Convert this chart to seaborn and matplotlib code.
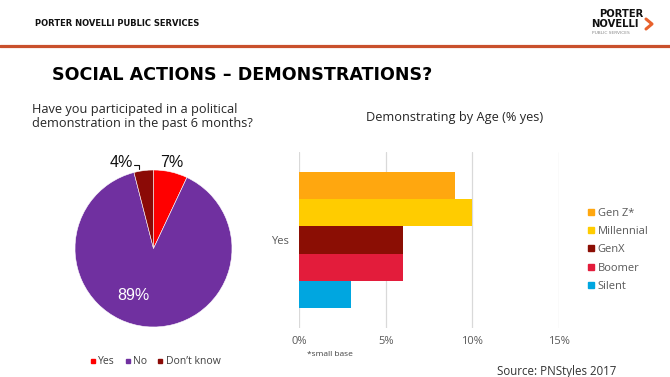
import numpy as np
import pandas as pd
import matplotlib
matplotlib.use("Agg")
import matplotlib.pyplot as plt
from matplotlib.lines import Line2D
import seaborn as sns

# pie: political demonstration in past 6 months
pie_labels = ["Yes", "No", "Don\u2019t know"]
pie_values = [7, 89, 4]
pie_colors = ["#FF0000", "#7030A0", "#8B0A06"]

# bars: demonstrating by age (% yes)
generations = ["Gen Z*", "Millennial", "GenX", "Boomer", "Silent"]
gen_values = [9, 10, 6, 6, 3]
gen_colors = ["#FFA70F", "#FFCC00", "#8B0E04", "#E31C3B", "#00A6E0"]
x_ticks = [0, 5, 10, 15]

W, H = 670, 377
def fx(x):
    return x / W
def fy(y):
    return 1 - y / H

sns.set_theme(style="white")
plt.rcParams["font.family"] = ["Open Sans", "DejaVu Sans"]

fig = plt.figure(figsize=(6.7, 3.77), dpi=100)
fig.patch.set_facecolor("white")

# header
fig.text(fx(35), fy(23), "PORTER NOVELLI PUBLIC SERVICES", family="DejaVu Sans",
         weight="heavy", size=6, color="#111111", va="center", ha="left")
fig.text(fx(643), fy(14), "PORTER", family="DejaVu Sans", weight="bold", size=7.2,
         color="#111111", ha="right", va="center")
fig.text(fx(639), fy(24), "NOVELLI", family="DejaVu Sans", weight="bold", size=7.2,
         color="#111111", ha="right", va="center")
fig.text(fx(592), fy(33), "PUBLIC SERVICES", family="DejaVu Sans", size=3.2,
         color="#8a8a8a", ha="left", va="center")
fig.add_artist(Line2D([fx(646), fx(652), fx(646)], [fy(19), fy(24), fy(29)],
                      color="#E8612C", lw=2.2, transform=fig.transFigure))
fig.add_artist(Line2D([0, 1], [fy(46), fy(46)], color="#C9502C", lw=2.3,
                      transform=fig.transFigure))

# title + question
fig.text(fx(52), fy(75), "SOCIAL ACTIONS \u2013 DEMONSTRATIONS?", family="DejaVu Sans",
         weight="heavy", size=12.6, color="#000000", va="center", ha="left")
fig.text(fx(32), fy(116), "Have you participated in a political\ndemonstration in the past 6 months?",
         size=9.2, color="#262626", va="center", ha="left", linespacing=1.1)

# pie chart
cx, cy, r = 153.5, 248.5, 78.5
ax1 = fig.add_axes([fx(cx - r), fy(cy + r), 2 * r / W, 2 * r / H])
ax1.pie(pie_values, colors=pie_colors, startangle=90, counterclock=False,
        wedgeprops=dict(edgecolor="white", linewidth=0.4))
ax1.set_xlim(-1, 1)
ax1.set_ylim(-1, 1)
ax1.set_aspect("equal")
ax1.axis("off")
lab_kw = dict(family="Liberation Sans", size=11.5, ha="center", va="center")
ax1.text(0.23, 1.09, f"{pie_values[0]}%", color="#111111", clip_on=False, **lab_kw)
ax1.text(-0.41, 1.09, f"{pie_values[2]}%", color="#111111", clip_on=False, **lab_kw)
ax1.text(-0.26, -0.605, f"{pie_values[1]}%", color="white", **lab_kw)
ax1.plot([-0.25, -0.18, -0.18], [1.06, 1.06, 1.01], color="#111111", lw=0.8, clip_on=False)

pie_handles = [Line2D([], [], marker="s", ls="", color=c, markersize=3.5) for c in pie_colors]
fig.legend(pie_handles, pie_labels, loc="center", bbox_to_anchor=(fx(155), fy(362)),
           ncol=3, frameon=False, fontsize=7.5, handlelength=0.6, handletextpad=0.25,
           columnspacing=0.9, labelcolor="#404040", borderpad=0)

# bar chart
df = pd.DataFrame({"answer": ["Yes"] * len(generations),
                   "generation": generations, "pct": gen_values})
ax2 = fig.add_axes([fx(299), fy(328), (559 - 299) / W, (328 - 152) / H])
sns.barplot(data=df, x="pct", y="answer", hue="generation", hue_order=generations,
            palette=gen_colors, orient="h", width=0.77, saturation=1, ax=ax2,
            legend=False, linewidth=0)
ax2.set_xlim(0, 15)
ax2.set_ylim(0.5, -0.5)
ax2.set_xticks(x_ticks)
ax2.set_xticklabels([f"{t}%" for t in x_ticks])
ax2.xaxis.grid(True, color="#D9D9D9", lw=0.9)
ax2.set_axisbelow(True)
for s in ax2.spines.values():
    s.set_visible(False)
ax2.tick_params(axis="both", length=0, labelsize=8, labelcolor="#595959")
ax2.tick_params(axis="x", pad=6)
ax2.tick_params(axis="y", pad=7)
ax2.set_xlabel("")
ax2.set_ylabel("")

fig.text(fx(455), fy(117), "Demonstrating by Age (% yes)", size=9.2, color="#262626",
         ha="center", va="center")

bar_handles = [Line2D([], [], marker="s", ls="", color=c, markersize=4) for c in gen_colors]
fig.legend(bar_handles, generations, loc="upper left", bbox_to_anchor=(fx(582), fy(202)),
           frameon=False, fontsize=8, handlelength=0.6, handletextpad=0.3,
           labelspacing=0.66, labelcolor="#595959", borderpad=0)

fig.text(fx(307), fy(354), "*small base", size=6, color="#404040", ha="left", va="center")
fig.text(fx(497), fy(371), "Source: PNStyles 2017", size=8.3, color="#333333",
         ha="left", va="center")

fig.savefig("out.png", dpi=100)
